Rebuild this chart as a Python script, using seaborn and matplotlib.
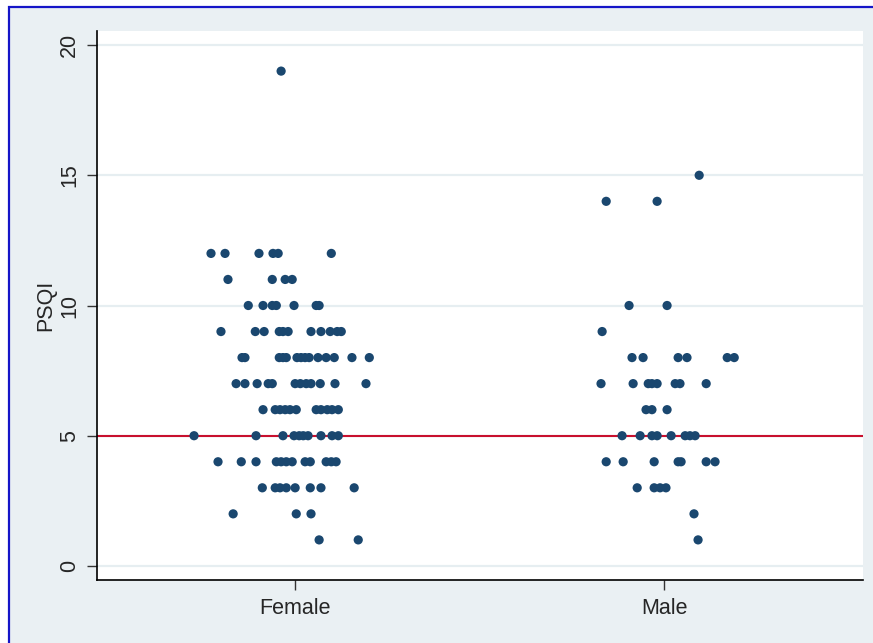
import pandas as pd
import numpy as np
import matplotlib.pyplot as plt
import seaborn as sns
from matplotlib.patches import Rectangle

# --- Dane ---
groups = ['Female', 'Male']

female_psqi = [19,
               12, 12, 12, 12, 12, 12,
               11, 11, 11, 11,
               10, 10, 10, 10, 10, 10, 10,
               9, 9, 9, 9, 9, 9, 9, 9, 9, 9, 9,
               8, 8, 8, 8, 8, 8, 8, 8, 8, 8, 8, 8, 8, 8,
               7, 7, 7, 7, 7, 7, 7, 7, 7, 7, 7, 7,
               6, 6, 6, 6, 6, 6, 6, 6, 6, 6, 6,
               5, 5, 5, 5, 5, 5, 5, 5, 5, 5,
               4, 4, 4, 4, 4, 4, 4, 4, 4, 4, 4, 4,
               3, 3, 3, 3, 3, 3, 3, 3,
               2, 2, 2,
               1, 1]
female_jitter = [-0.038,
                 -0.228, -0.190, -0.098, -0.060, -0.046, 0.098,
                 -0.182, -0.062, -0.027, -0.008,
                 -0.127, -0.087, -0.062, -0.051, -0.003, 0.057, 0.065,
                 -0.201, -0.108, -0.084, -0.043, -0.033, -0.019, 0.043, 0.070, 0.095, 0.114, 0.125,
                 -0.144, -0.136, -0.043, -0.033, -0.024, 0.005, 0.016, 0.027, 0.038, 0.062, 0.084, 0.106, 0.154, 0.201,
                 -0.160, -0.136, -0.103, -0.073, -0.062, 0.000, 0.014, 0.030, 0.043, 0.068, 0.108, 0.192,
                 -0.087, -0.054, -0.041, -0.027, -0.014, 0.003, 0.057, 0.070, 0.087, 0.100, 0.117,
                 -0.274, -0.106, -0.033, -0.003, 0.011, 0.022, 0.035, 0.070, 0.100, 0.117,
                 -0.209, -0.146, -0.106, -0.051, -0.038, -0.024, -0.008, 0.027, 0.041, 0.084, 0.098, 0.111,
                 -0.089, -0.054, -0.041, -0.024, 0.000, 0.041, 0.070, 0.160,
                 -0.168, 0.003, 0.043,
                 0.065, 0.171]

male_psqi = [15,
             14, 14,
             10, 10,
             9,
             8, 8, 8, 8, 8, 8,
             7, 7, 7, 7, 7, 7, 7, 7,
             6, 6, 6,
             5, 5, 5, 5, 5, 5, 5, 5,
             4, 4, 4, 4, 4, 4, 4,
             3, 3, 3, 3,
             2,
             1]
male_jitter = [0.095,
               -0.157, -0.019,
               -0.095, 0.008,
               -0.168,
               -0.087, -0.057, 0.038, 0.062, 0.171, 0.190,
               -0.171, -0.084, -0.043, -0.033, -0.019, 0.030, 0.043, 0.114,
               -0.049, -0.033, 0.008,
               -0.114, -0.065, -0.033, -0.019, 0.019, 0.057, 0.070, 0.084,
               -0.157, -0.111, -0.027, 0.038, 0.046, 0.114, 0.138,
               -0.073, -0.027, -0.011, 0.005,
               0.081,
               0.092]

cutoff = 5
y_ticks = [0, 5, 10, 15, 20]

df = pd.DataFrame({
    'sex': [0] * len(female_psqi) + [1] * len(male_psqi),
    'PSQI': female_psqi + male_psqi,
    'jitter': female_jitter + male_jitter,
})
df['x'] = df['sex'] + df['jitter']

# --- Styl ---
bg = '#EAF0F3'
sns.set_style('white')
plt.rcParams['font.family'] = ['Liberation Sans', 'DejaVu Sans']

fig = plt.figure(figsize=(8.73, 6.43), dpi=100, facecolor='white')
fig.patches.append(Rectangle((9 / 873, -0.1), 1.2, 1.1 - 7 / 643,
                             transform=fig.transFigure, facecolor=bg,
                             edgecolor='#1515C8', lw=1.6, zorder=-10))
ax = fig.add_axes([97 / 873, 63 / 643, 766 / 873, 549 / 643])
ax.set_facecolor('white')

for t in y_ticks:
    ax.axhline(t, color='#E6EEF1', lw=1.6, zorder=0)
ax.axhline(cutoff, color='#C8102E', lw=1.5, zorder=1)

sns.scatterplot(data=df, x='x', y='PSQI', ax=ax, color='#1A476F',
                s=44, edgecolor='none', linewidth=0, zorder=3, legend=False)

ax.set_xlim(-0.537, 1.539)
ax.set_ylim(-0.54, 20.54)
ax.set_xticks([0, 1])
ax.set_xticklabels(groups)
ax.set_yticks(y_ticks)
ax.set_yticklabels([str(t) for t in y_ticks], rotation=90, va='center')
ax.set_xlabel('')
ax.set_ylabel('PSQI', fontsize=15.5, labelpad=2)

ax.tick_params(axis='both', labelsize=15.5, length=7, width=1, color='#333333',
               direction='out', pad=6, left=True, bottom=True)
ax.tick_params(axis='y', pad=5)

for side in ['top', 'right']:
    ax.spines[side].set_visible(False)
for side in ['left', 'bottom']:
    ax.spines[side].set_color('black')
    ax.spines[side].set_linewidth(1.2)

plt.savefig('out.png', dpi=100, facecolor=fig.get_facecolor())
